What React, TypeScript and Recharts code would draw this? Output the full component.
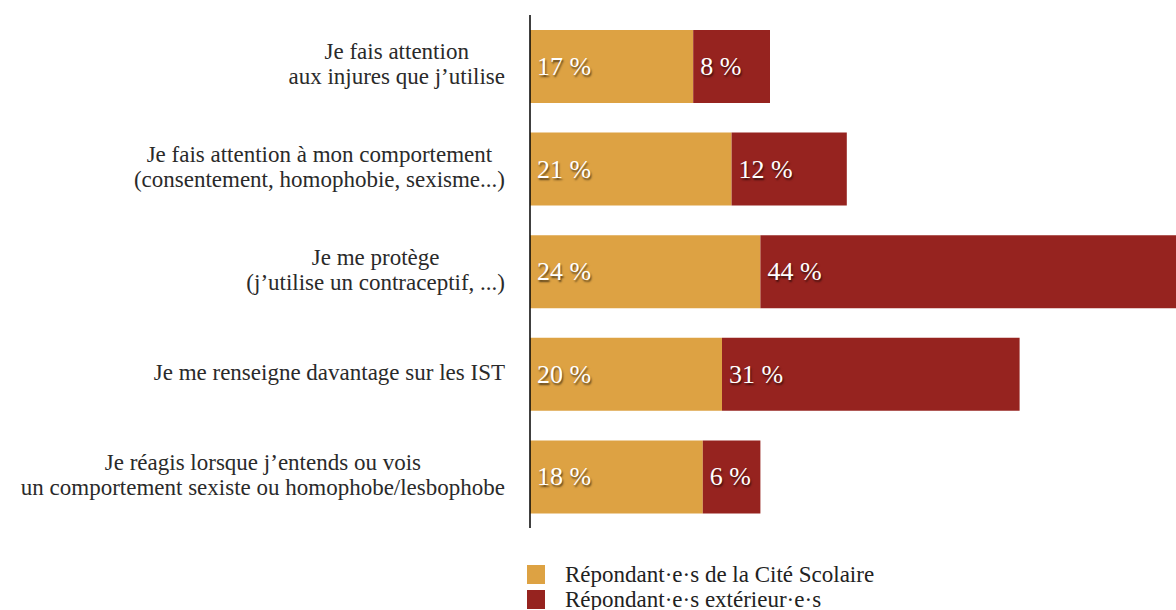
import React from 'react';
import { BarChart, Bar, XAxis, YAxis, LabelList, Legend } from 'recharts';

const categories = [
  'Je fais attention\naux injures que j’utilise',
  'Je fais attention à mon comportement\n(consentement, homophobie, sexisme...)',
  'Je me protège\n(j’utilise un contraceptif, ...)',
  'Je me renseigne davantage sur les IST',
  'Je réagis lorsque j’entends ou vois\nun comportement sexiste ou homophobe/lesbophobe',
];
const citeScolaire = [17, 21, 24, 20, 18];
const exterieurs = [8, 12, 44, 31, 6];
const seriesNames = ['Répondant·e·s de la Cité Scolaire', 'Répondant·e·s extérieur·e·s'];
const colors = ['#DDA243', '#96231F'];

const data = categories.map((c, i) => ({ cat: c, cite: citeScolaire[i], ext: exterieurs[i] }));

const FONT = '"Liberation Serif", "Times New Roman", serif';
const TICK_SIZE = 23;
const LINE_H = 25;

let ctx: CanvasRenderingContext2D | null = null;
function measure(t: string): number {
  if (!ctx) {
    const c = document.createElement('canvas');
    ctx = c.getContext('2d');
  }
  if (!ctx) return t.length * 10;
  ctx.font = `${TICK_SIZE}px "Liberation Serif"`;
  return ctx.measureText(t).width;
}

const CatTick = (props: any) => {
  const { x, y, payload } = props;
  const lines: string[] = String(payload.value).split('\n');
  const maxW = Math.max(...lines.map(measure));
  const cx = x - maxW / 2;
  const y0 = y - ((lines.length - 1) * LINE_H) / 2 - 2;
  return (
    <g>
      {lines.map((l, i) => (
        <text
          key={i}
          x={cx}
          y={y0 + i * LINE_H}
          textAnchor="middle"
          dominantBaseline="central"
          fill="#2a2a2a"
          fontFamily={FONT}
          fontSize={TICK_SIZE}
        >
          {l}
        </text>
      ))}
    </g>
  );
};

const ValueLabel = (props: any) => {
  const { x, y, height, value } = props;
  return (
    <text
      x={x + 7}
      y={y + height / 2}
      dominantBaseline="central"
      fill="#fff"
      fontFamily={FONT}
      fontSize={26}
      style={{ textShadow: '1px 2px 2px rgba(0,0,0,0.6)' }}
    >
      {`${value} %`}
    </text>
  );
};

const LegendContent = () => (
  <div style={{ fontFamily: FONT, fontSize: 23, color: '#222', lineHeight: '25px' }}>
    {seriesNames.map((n, i) => (
      <div key={n} style={{ display: 'flex', alignItems: 'center', height: 25, whiteSpace: 'nowrap' }}>
        <span style={{ display: 'inline-block', width: 18, height: 19, background: colors[i], marginRight: 20, flex: 'none' }} />
        <span>{n}</span>
      </div>
    ))}
  </div>
);

export default function App() {
  return (
    <div style={{ position: 'absolute', left: 0, top: 0, width: 1176, height: 610, overflow: 'hidden', background: '#fff' }}>
      <BarChart
        width={1202}
        height={610}
        data={data}
        layout="vertical"
        margin={{ top: 15, right: 0, bottom: 82, left: 0 }}
        barSize={73}
      >
        <XAxis type="number" domain={[0, 70]} hide />
        <YAxis
          type="category"
          dataKey="cat"
          width={530}
          tickLine={false}
          tickSize={0}
          tickMargin={25}
          axisLine={{ stroke: '#000', strokeWidth: 1.5 }}
          tick={<CatTick />}
          interval={0}
        />
        <Legend
          layout="vertical"
          align="center"
          verticalAlign="middle"
          content={<LegendContent />}
          wrapperStyle={{ position: 'absolute', left: 527, top: 562, width: 420, height: 50 }}
        />
        <Bar dataKey="cite" stackId="a" fill={colors[0]} name={seriesNames[0]} isAnimationActive={false}>
          <LabelList dataKey="cite" content={<ValueLabel />} />
        </Bar>
        <Bar dataKey="ext" stackId="a" fill={colors[1]} name={seriesNames[1]} isAnimationActive={false}>
          <LabelList dataKey="ext" content={<ValueLabel />} />
        </Bar>
      </BarChart>
    </div>
  );
}
